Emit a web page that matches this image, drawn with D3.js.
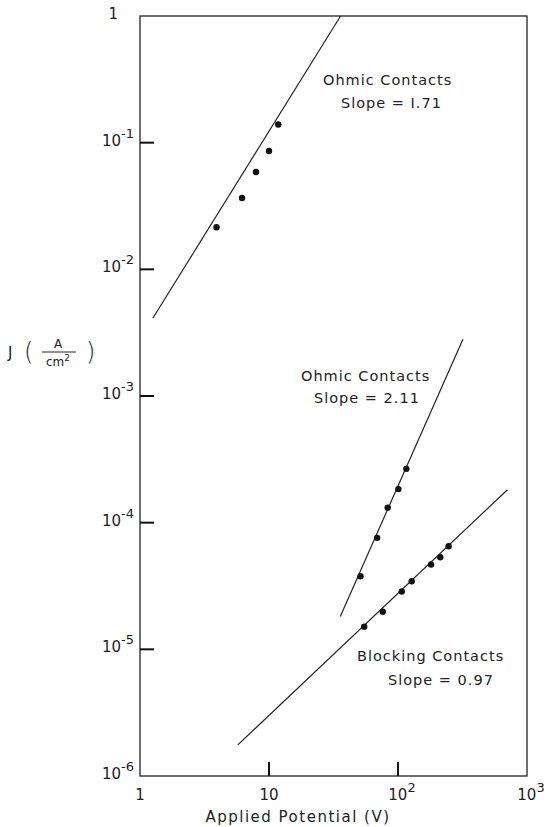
<!DOCTYPE html>
<meta charset="utf-8">
<style>
body { margin: 0; background: #fff; }
text { font-family: "DejaVu Sans", sans-serif; fill: #222; }
.frame { fill: none; stroke: #222; stroke-width: 1.3px; }
.fit { fill: none; stroke: #222; stroke-width: 1.2px; }
.dot { fill: #111; }
.tickmark { fill: #111; }
.lbl { font-size: 14.5px; letter-spacing: 1px; }
.tick-lbl { font-size: 15px; }
</style>
<body>
<div id="chart"></div>
<script src="https://cdn.jsdelivr.net/npm/d3@7"></script>
<script>
// J vs applied potential, log-log, three contact series

var ohmicA = [[3.92, 0.0215], [6.18, 0.0366], [7.93, 0.0587], [10.0, 0.086], [11.8, 0.139]];
var ohmicB = [[51.2, 3.78e-5], [68.9, 7.59e-5], [83.2, 1.31e-4], [100.7, 1.84e-4], [116.1, 2.66e-4]];
var blocking = [[54.7, 1.51e-5], [76.2, 1.98e-5], [106.9, 2.86e-5], [127.7, 3.45e-5],
                [180.4, 4.67e-5], [212.8, 5.33e-5], [246.8, 6.52e-5]];

// fitted lines (end points)
var fitA = [[1.26, 4.13e-3], [35.9, 1]];
var fitB = [[35.7, 1.82e-5], [318.7, 2.81e-3]];
var fitC = [[5.73, 1.76e-6], [705, 1.82e-4]];

var xTicks = [1, 10, 100, 1000];
var xTickLabels = [["1", ""], ["10", ""], ["10", "2"], ["10", "3"]];
var yTicks = [1, 1e-1, 1e-2, 1e-3, 1e-4, 1e-5, 1e-6];
var yTickLabels = [["1", ""], ["10", "-1"], ["10", "-2"], ["10", "-3"], ["10", "-4"], ["10", "-5"], ["10", "-6"]];

var width = 550, height = 827;

var x = d3.scaleLog().domain([1, 1000]).range([140, 527]);
var y = d3.scaleLog().domain([1e-6, 1]).range([776, 16]);

var svg = d3.select("#chart").append("svg")
    .attr("width", width)
    .attr("height", height);

svg.append("rect")
    .attr("class", "frame")
    .attr("x", x(1))
    .attr("y", y(1))
    .attr("width", x(1000) - x(1))
    .attr("height", y(1e-6) - y(1));

// inward ticks, as small filled bars
svg.append("g").selectAll("rect")
    .data(yTicks.slice(1, 6))
    .enter().append("rect")
    .attr("class", "tickmark")
    .attr("x", x(1))
    .attr("y", function (d) { return y(d) - 1; })
    .attr("width", 14)
    .attr("height", 2);

svg.append("g").selectAll("rect")
    .data(xTicks.slice(1, 3))
    .enter().append("rect")
    .attr("class", "tickmark")
    .attr("x", function (d) { return x(d) - 1; })
    .attr("y", y(1e-6) - 14)
    .attr("width", 2)
    .attr("height", 14);

// tick labels
var yl = svg.append("g").selectAll("text")
    .data(yTicks)
    .enter().append("text")
    .attr("class", "tick-lbl")
    .attr("text-anchor", "end")
    .attr("x", function (d, i) { return i == 0 ? 118 : 134; })
    .attr("y", function (d) { return y(d) + 3; });
yl.append("tspan").text(function (d, i) { return yTickLabels[i][0]; });
yl.append("tspan")
    .attr("dy", -8)
    .attr("font-size", 13)
    .text(function (d, i) { return yTickLabels[i][1]; });

var xl = svg.append("g").selectAll("text")
    .data(xTicks)
    .enter().append("text")
    .attr("class", "tick-lbl")
    .attr("text-anchor", "middle")
    .attr("x", function (d, i) { return x(d) + (i > 1 ? 4 : 0); })
    .attr("y", 800);
xl.append("tspan").text(function (d, i) { return xTickLabels[i][0]; });
xl.append("tspan")
    .attr("dy", -8)
    .attr("font-size", 13)
    .text(function (d, i) { return xTickLabels[i][1]; });

svg.append("text")
    .attr("class", "lbl")
    .attr("x", 298)
    .attr("y", 822)
    .attr("text-anchor", "middle")
    .style("font-size", "15px")
    .style("letter-spacing", "1.5px")
    .text("Applied Potential  (V)");

// y label J (A / cm^2)
var jl = svg.append("g").attr("transform", "translate(0,352)");
jl.append("text").attr("x", 8).attr("y", 6).style("font-size", "15px").text("J");
jl.append("text").attr("x", 24).attr("y", 8).style("font-size", "24px").style("font-weight", "200").text("(");
jl.append("text").attr("x", 86).attr("y", 8).style("font-size", "24px").style("font-weight", "200").text(")");
jl.append("text").attr("x", 58).attr("y", -4).attr("text-anchor", "middle").style("font-size", "12px").text("A");
jl.append("path").attr("d", "M42,0H76")
    .attr("stroke", "#222").attr("stroke-width", 1);
var cm = jl.append("text").attr("x", 58).attr("y", 14).attr("text-anchor", "middle").style("font-size", "12px");
cm.append("tspan").text("cm");
cm.append("tspan").attr("dy", -5).style("font-size", "9px").text("2");

// fitted lines
var fitLine = d3.line()
    .x(function (d) { return x(d[0]); })
    .y(function (d) { return y(d[1]); });

svg.append("g").selectAll("path")
    .data([fitA, fitB, fitC])
    .enter().append("path")
    .attr("class", "fit")
    .attr("d", fitLine);

// points
[ohmicA, ohmicB, blocking].forEach(function (s) {
    svg.append("g").selectAll("circle")
        .data(s)
        .enter().append("circle")
        .attr("class", "dot")
        .attr("cx", function (d) { return x(d[0]); })
        .attr("cy", function (d) { return y(d[1]); })
        .attr("r", 3.2);
});

// annotations
var notes = [
    ["Ohmic  Contacts", 323, 85], ["Slope = I.71", 341, 108],
    ["Ohmic  Contacts", 301, 381], ["Slope = 2.11", 314, 403],
    ["Blocking  Contacts", 357, 661], ["Slope = 0.97", 388, 685]
];
svg.append("g").selectAll("text")
    .data(notes)
    .enter().append("text")
    .attr("class", "lbl")
    .attr("x", function (d) { return d[1]; })
    .attr("y", function (d) { return d[2]; })
    .text(function (d) { return d[0]; });
</script>
